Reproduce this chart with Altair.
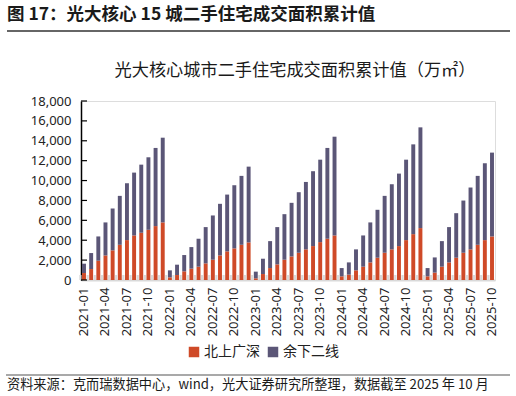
import altair as alt
import pandas as pd

# Monthly categories, 2021-01 .. 2025-10
months = [f"{y}-{m:02d}" for y in range(2021, 2026) for m in range(1, 13)][:58]

# Cumulative second-hand housing transaction area (万㎡), year-to-date
tier1 = [
    700, 1100, 1940, 2470, 2980, 3540, 4010, 4480, 4750, 5050, 5420, 5790,
    270, 500, 870, 1140, 1340, 1670, 2040, 2470, 2880, 3180, 3540, 3780,
    170, 600, 1200, 1570, 2040, 2370, 2740, 3080, 3410, 3810, 4150, 4480,
    370, 540, 970, 1340, 1770, 2240, 2740, 3080, 3410, 4010, 4610, 5220,
    370, 740, 1340, 1770, 2240, 2740, 3080, 3540, 4010, 4380,
]
tier2 = [
    940, 1610, 2440, 3320, 4210, 4920, 5720, 6320, 6850, 7290, 7860, 8520,
    700, 1040, 1640, 2170, 2810, 3650, 4450, 5190, 5710, 6350, 6930, 7620,
    670, 1540, 2710, 3750, 4580, 5390, 6090, 6780, 7530, 8290, 9130, 9930,
    830, 1230, 2110, 3140, 4020, 4820, 5720, 6550, 7290, 8090, 9030, 10130,
    830, 1530, 2570, 3550, 4480, 5250, 6220, 6930, 7730, 8430,
]
series_names = ["北上广深", "余下二线"]
series_colors = ["#CF4A28", "#5B5677"]
y_ticks = [0, 2000, 4000, 6000, 8000, 10000, 12000, 14000, 16000, 18000]

header_text = "图 17：光大核心 15 城二手住宅成交面积累计值"
chart_title = "光大核心城市二手住宅成交面积累计值（万㎡）"
source_text = "资料来源：克而瑞数据中心，wind，光大证券研究所整理，数据截至 2025 年 10 月"

FONT = "Noto Sans CJK SC"
W, H = 414, 179

rows = []
for i, m in enumerate(months):
    rows.append({"month": m, "series": series_names[0], "value": tier1[i], "ord": 0})
    rows.append({"month": m, "series": series_names[1], "value": tier2[i], "ord": 1})
df = pd.DataFrame(rows)

x_scale = alt.Scale(domain=months, paddingInner=0.45, paddingOuter=0.144)
y_scale = alt.Scale(domain=[0, 18000], nice=False)

# One axis definition per channel, shared by every layer so they merge cleanly
x_axis = alt.Axis(title=None, values=months[::3], labelAngle=270,
                  labelAlign="right", labelBaseline="middle",
                  labelPadding=7, labelFontSize=13, labelFont="Noto Sans",
                  labelColor="#222", ticks=False, labelOverlap=False,
                  domainColor="#d9d9d9", domainWidth=2)
# thousands separator written out: every tick is a whole multiple of 1,000
y_axis = alt.Axis(title=None, values=y_ticks, grid=False,
                  labelExpr="datum.value == 0 ? '0' : floor(datum.value / 1000) + ',000'",
                  ticks=False, labelPadding=10, labelFontSize=13,
                  labelFont="Noto Sans", labelColor="#222",
                  labelOverlap=False, domainColor="#000", domainWidth=1.5)

bars = alt.Chart(df).mark_bar().encode(
    x=alt.X("month:O", scale=x_scale, sort=months, axis=x_axis),
    y=alt.Y("value:Q", stack="zero", scale=y_scale, axis=y_axis),
    color=alt.Color("series:N", scale=alt.Scale(domain=series_names, range=series_colors),
                    legend=alt.Legend(title=None, orient="none", direction="horizontal",
                                      legendX=106, legendY=244, symbolType="square",
                                      symbolSize=110, symbolStrokeWidth=0,
                                      labelFont=FONT, labelFontSize=14,
                                      labelColor="#222", columnPadding=6,
                                      labelOffset=3)),
    order=alt.Order("ord:Q"),
)

# Inward-pointing tick marks on the value axis
ytick_df = pd.DataFrame({"value": y_ticks})
ytick_rules = alt.Chart(ytick_df).mark_rule(color="#000", strokeWidth=1.2).encode(
    y=alt.Y("value:Q", scale=y_scale, axis=y_axis),
    x=alt.value(0), x2=alt.value(6),
)

# Short grey category-boundary marks along the baseline
xtick_df = pd.DataFrame({"month": months})
xtick_rules = alt.Chart(xtick_df).mark_rule(color="#d9d9d9", strokeWidth=2.2, xOffset=-1.6).encode(
    x=alt.X("month:O", scale=x_scale, sort=months, bandPosition=0, axis=x_axis),
    y=alt.value(H), y2=alt.value(H - 5),
)

def text_layer(txt, x, y, size, weight="normal", align="left"):
    return alt.Chart(pd.DataFrame({"t": [txt]})).mark_text(
        font=FONT, fontSize=size, fontWeight=weight, align=align,
        baseline="middle", color="#1a1a1a",
    ).encode(text="t:N", x=alt.value(x), y=alt.value(y))

def hline(x1, x2, y, color, width):
    return alt.Chart(pd.DataFrame({"a": [0]})).mark_rule(color=color, strokeWidth=width).encode(
        x=alt.value(x1), x2=alt.value(x2), y=alt.value(y))

header = text_layer(header_text, -74, -86, 17.5, weight="bold")
header_rule = hline(-74, 429, -70, "#333", 1.5)
title = text_layer(chart_title, 214, -30, 17.2, align="center")
footer_rule = hline(-75, 429, 274, "#555", 1.2)
footer = text_layer(source_text, -74, 284, 13.2)

chart = alt.layer(
    bars, xtick_rules, ytick_rules, header, header_rule, title, footer_rule, footer
).properties(
    width=W, height=H,
    autosize=alt.AutoSizeParams(type="none"),
    padding={"left": 81, "top": 101, "right": 21, "bottom": 116},
).configure_view(stroke=None).configure(background="white")

chart.save("out.html", embed_options={"renderer": "svg", "actions": False})
